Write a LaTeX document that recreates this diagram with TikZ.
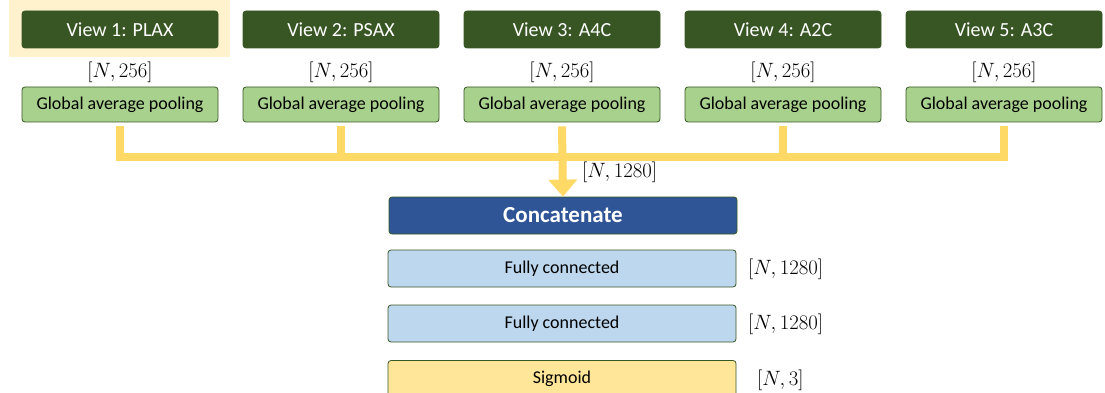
\documentclass[tikz,border=0pt]{standalone}
\usepackage{fontspec}
\setmainfont{Carlito}
\usetikzlibrary{arrows.meta}
\definecolor{viewfill}{HTML}{375623}
\definecolor{gapfill}{HTML}{A9D18E}
\definecolor{boxline}{HTML}{385723}
\definecolor{yel}{HTML}{FFD966}
\definecolor{hilite}{HTML}{FFF2CC}
\definecolor{concat}{HTML}{2F5597}
\definecolor{fcfill}{HTML}{BDD7EE}
\definecolor{sigfill}{HTML}{FFE699}
\tikzset{
  viewbox/.style={draw=boxline, line width=0.8pt, fill=viewfill, rounded corners=3pt, minimum width=196pt, minimum height=37pt, inner sep=0pt, text=white, font=\fontsize{20}{22}\selectfont},
  gapbox/.style={draw=boxline, line width=0.8pt, fill=gapfill, rounded corners=3pt, minimum width=196pt, minimum height=35pt, inner sep=0pt, font=\fontsize{18}{20}\selectfont},
  layerbox/.style={draw=boxline, line width=0.8pt, rounded corners=3pt, minimum width=348pt, minimum height=37pt, inner sep=0pt, font=\fontsize{18}{20}\selectfont},
  dimlabel/.style={inner sep=0pt, font=\fontsize{20}{22}\selectfont},
  yline/.style={draw=yel, line width=8pt}
}
\begin{document}
\begin{tikzpicture}[x=1pt,y=-1pt]
\useasboundingbox (0,0) rectangle (1105,393);
\fill[hilite] (9,0) rectangle (230,57);
\foreach \i/\n in {1/PLAX,2/PSAX,3/A4C,4/A2C,5/A3C}{
  \node[viewbox] (v\i) at ({120+221*(\i-1)},29.5) {View \i: \n};
  \node[dimlabel] (d\i) at ({120+221*(\i-1)},72) {$[N,256]$};
  \node[gapbox] (g\i) at ({120+221*(\i-1)},104.5) {Global average pooling};
}
\coordinate (j1) at (g1.south |- 0,157);
\coordinate (j5) at (g5.south |- 0,157);
\draw[yline] (g1.south) ++(0,4) -- (j1) -- (j5) -- ([yshift=-4pt]g5.south);
\foreach \i in {2,4}{
  \draw[yline] ([yshift=-4pt]g\i.south) -- (g\i.south |- 0,157);
}
\node[layerbox, fill=concat, text=white, font=\bfseries\fontsize{23}{25}\selectfont] (cat) at (563,215.5) {Concatenate};
\draw[yline, -{Triangle[width=28pt,length=17pt]}] ([yshift=-4pt]g3.south) -- (cat.north);
\node[dimlabel, anchor=west] (dc) at (582,172) {$[N,1280]$};
\node[layerbox, fill=fcfill] (fc1) at (562,268.5) {Fully connected};
\node[dimlabel, anchor=west] (dfc1) at (748,269) {$[N,1280]$};
\node[layerbox, fill=fcfill] (fc2) at (562,323.5) {Fully connected};
\node[dimlabel, anchor=west] (dfc2) at (748,324) {$[N,1280]$};
\node[layerbox, fill=sigfill] (sig) at (562,379) {Sigmoid};
\node[dimlabel, anchor=west] (dsig) at (757,380) {$[N,3]$};
\end{tikzpicture}
\end{document}
